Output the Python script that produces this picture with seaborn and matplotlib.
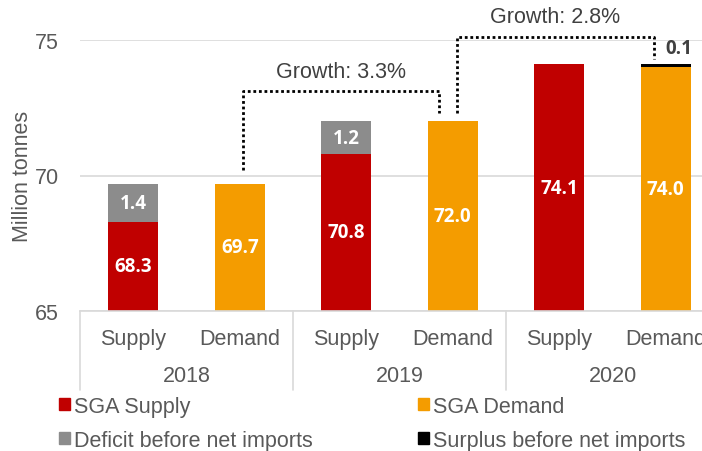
import matplotlib
matplotlib.use("Agg")
import matplotlib.pyplot as plt
import matplotlib.transforms as mtransforms
from matplotlib.patches import Patch
import pandas as pd
import seaborn as sns

# chart values
years = ["2018", "2019", "2020"]
kinds = ["Supply", "Demand"]
base = [68.3, 69.7, 70.8, 72.0, 74.1, 74.0]
extra = [1.4, 0.0, 1.2, 0.0, 0.0, 0.1]
extra_kind = ["Deficit", None, "Deficit", None, None, "Surplus"]
growth = ["Growth: 3.3%", "Growth: 2.8%"]

RED, ORANGE, GREY, BLACK = "#C00000", "#F49C00", "#8C8C8C", "#000000"
TXT = "#595959"
FS = 15.5

sns.set_style("white")
plt.rcParams["font.family"] = ["Liberation Sans", "DejaVu Sans"]

df = pd.DataFrame({
    "slot": [f"{y} {k}" for y in years for k in kinds],
    "kind": kinds * 3,
    "base": base,
    "extra": extra,
    "ek": extra_kind,
})
df["total"] = df["base"] + df["extra"]
order = list(df["slot"])
base_pal = {s: (RED if k == "Supply" else ORANGE) for s, k in zip(df["slot"], df["kind"])}
top_pal = {s: (GREY if e == "Deficit" else BLACK if e == "Surplus" else base_pal[s])
           for s, e in zip(df["slot"], df["ek"])}

fig = plt.figure(figsize=(7.02, 4.52), dpi=100)
ax = fig.add_axes([80 / 702, 140 / 452, 639 / 702, 271 / 452])

# totals first (top segment colour), then base on top of them
sns.barplot(data=df, x="slot", y="total", hue="slot", order=order, palette=top_pal,
            width=0.47, legend=False, ax=ax, saturation=1, linewidth=0)
sns.barplot(data=df, x="slot", y="base", hue="slot", order=order, palette=base_pal,
            width=0.47, legend=False, ax=ax, saturation=1, linewidth=0)

ax.set_xlim(-0.5, 5.5)
ax.set_ylim(65, 75)
ax.set_yticks([65, 70, 75])
ax.yaxis.grid(True, color="#D9D9D9", lw=1.2)
ax.set_axisbelow(True)
for s in ["top", "right", "left"]:
    ax.spines[s].set_visible(False)
ax.spines["bottom"].set_color("#D9D9D9")
ax.spines["bottom"].set_linewidth(1.2)
ax.tick_params(axis="y", length=0, pad=15, labelsize=FS, labelcolor=TXT)
ax.tick_params(axis="x", length=0, pad=12, labelsize=FS, labelcolor=TXT)
ax.set_xticks(range(6))
ax.set_xticklabels(kinds * 3)
ax.set_xlabel("")
ax.set_ylabel("Million tonnes", fontsize=FS, color=TXT)
ax.yaxis.set_label_coords(-0.073, 0.5)

# year row + separators
trans = mtransforms.blended_transform_factory(ax.transData, ax.transAxes)
for i, y in enumerate(years):
    ax.text(2 * i + 0.5, -0.237, y, transform=trans, ha="center", va="center",
            fontsize=FS, color=TXT)
for xs in [-0.5, 1.5, 3.5, 5.5]:
    ax.plot([xs, xs], [0, -0.29], transform=trans, color="#D9D9D9", lw=1.2, clip_on=False)

# value labels
for i, r in df.iterrows():
    ax.text(i, (65 + r["base"]) / 2, f"{r['base']:.1f}", ha="center", va="center",
            color="white", fontsize=13.5, fontweight="bold", family="Open Sans")
    if r["ek"] == "Deficit":
        ax.text(i, r["base"] + r["extra"] / 2, f"{r['extra']:.1f}", ha="center", va="center",
                color="white", fontsize=13.5, fontweight="bold", family="Open Sans")
    elif r["ek"] == "Surplus":
        ax.text(i + 0.12, r["total"] + 0.6, f"{r['extra']:.1f}", ha="center", va="center",
                color="#404040", fontsize=13.5, fontweight="bold", family="Open Sans")

# growth brackets between demand bars
tot = list(df["total"])
brackets = [
    (1.03, 2.87, tot[1] + 0.5, tot[3] + 0.3, tot[3] + 1.1),
    (3.04, 4.89, tot[3] + 0.3, tot[5] + 0.2, tot[5] + 1.0),
]
for (x0, x1, y0, y1, yt), label in zip(brackets, growth):
    ax.plot([x0, x0, x1, x1], [y0, yt, yt, y1], color="black", lw=2,
            linestyle=(0, (1, 1)), clip_on=False)
    ax.text((x0 + x1) / 2, yt + 0.75, label, ha="center", va="center",
            fontsize=FS, color="#404040")

handles = [Patch(color=RED, label="SGA Supply"),
           Patch(color=GREY, label="Deficit before net imports"),
           Patch(color=ORANGE, label="SGA Demand"),
           Patch(color=BLACK, label="Surplus before net imports")]
fig.legend(handles=handles, ncol=2, loc="upper left", bbox_to_anchor=(59 / 702, 1 - 397 / 452),
           frameon=False, fontsize=FS, handlelength=0.5, handleheight=0.5,
           handletextpad=0.2, columnspacing=4.9, labelspacing=0.6,
           borderpad=0, borderaxespad=0, labelcolor=TXT)

fig.savefig("out.png", dpi=100)
